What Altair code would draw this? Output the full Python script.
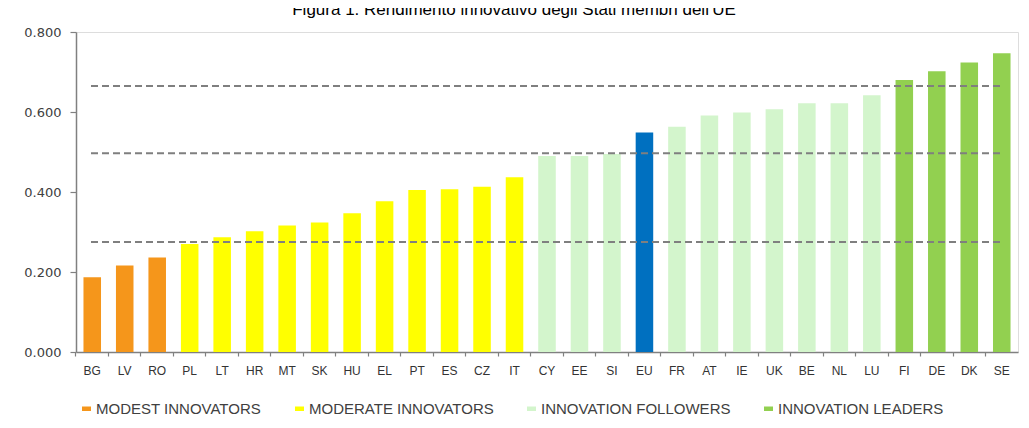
import altair as alt
import pandas as pd

countries = ["BG", "LV", "RO", "PL", "LT", "HR", "MT", "SK", "HU", "EL", "PT", "ES", "CZ", "IT",
             "CY", "EE", "SI", "EU", "FR", "AT", "IE", "UK", "BE", "NL", "LU", "FI", "DE", "DK", "SE"]
values = [0.187, 0.216, 0.236, 0.270, 0.287, 0.302, 0.316, 0.324, 0.347, 0.377, 0.405, 0.407, 0.413, 0.437,
          0.490, 0.490, 0.495, 0.549, 0.563, 0.591, 0.599, 0.607, 0.622, 0.622, 0.642, 0.680, 0.702, 0.724, 0.747]
groups = (["MODEST INNOVATORS"] * 3 + ["MODERATE INNOVATORS"] * 11 + ["INNOVATION FOLLOWERS"] * 3
          + ["EU"] + ["INNOVATION FOLLOWERS"] * 7 + ["INNOVATION LEADERS"] * 4)
group_names = ["MODEST INNOVATORS", "MODERATE INNOVATORS", "INNOVATION FOLLOWERS", "INNOVATION LEADERS", "EU"]
group_colors = ["#F5961B", "#FFFF00", "#D3F5CC", "#92D050", "#0070C0"]
thresholds = [0.275, 0.497, 0.665]
title_text = "Figura 1: Rendimento innovativo degli Stati membri dell'UE"

df = pd.DataFrame({"country": countries, "value": values, "group": groups})
df_thr = pd.DataFrame({"t": thresholds})

FONT = "Liberation Sans"
P_IN = 0.46

bars = alt.Chart(df).mark_bar().encode(
    x=alt.X("country:N", sort=countries, title=None,
            scale=alt.Scale(paddingInner=P_IN, paddingOuter=P_IN / 2),
            axis=alt.Axis(labelAngle=0, labelFont=FONT, labelFontSize=12, labelColor="#333333",
                          domainColor="#808080", domainWidth=1.5, tickColor="#808080",
                          tickSize=4, tickWidth=1.2, bandPosition=-(P_IN / 2) / (1 - P_IN),
                          labelPadding=9, grid=False)),
    y=alt.Y("value:Q", title=None,
            scale=alt.Scale(domain=[0, 0.8], nice=False),
            axis=alt.Axis(values=[0, 0.1, 0.2, 0.3, 0.4, 0.5, 0.6, 0.7, 0.8], format=".3f",
                          labelFont="DejaVu Sans", labelFontSize=13, labelColor="#404040",
                          domainColor="#808080", domainWidth=1.5, tickColor="#808080",
                          tickSize=6, tickWidth=1.2, labelPadding=9, grid=False)),
    color=alt.Color("group:N", title=None,
                    scale=alt.Scale(domain=group_names, range=group_colors),
                    legend=alt.Legend(values=group_names[:4], orient="none", direction="horizontal",
                                      legendX=3, legendY=369, columns=4, columnPadding=30,
                                      symbolType="M-1,-0.5L1,-0.5L1,0.5L-1,0.5Z", symbolSize=81,
                                      symbolStrokeWidth=0, labelOffset=2, labelLimit=400,
                                      labelFont=FONT, labelFontSize=15, labelColor="#404040",
                                      padding=0)),
)

rules = alt.Chart(df_thr).mark_rule(color="#7F7F7F", strokeWidth=2, strokeDash=[7, 4]).encode(
    y="t:Q",
    x=alt.value(15),
    x2=alt.value(926),
)

chart = alt.layer(bars, rules).properties(
    width=942,
    height=320,
    autosize=alt.AutoSizeParams(type="none"),
    padding={"left": 68, "top": 24, "right": 2, "bottom": 66},
    title=alt.TitleParams(title_text, font=FONT, fontSize=17, fontWeight="normal", color="#000000",
                          anchor="middle", baseline="alphabetic", offset=2, dx=-33, dy=8),
).configure_view(stroke=None).configure(background="white")

chart.save("out.html", embed_options={"renderer": "svg", "actions": False})
